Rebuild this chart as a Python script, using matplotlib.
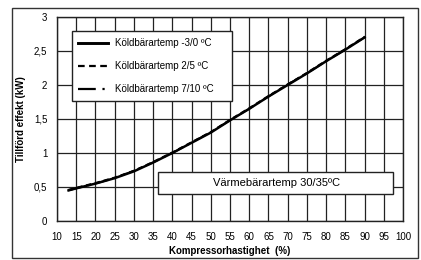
import numpy as np
import matplotlib.pyplot as plt
from matplotlib.patches import Rectangle
from matplotlib.lines import Line2D
from matplotlib.ticker import FuncFormatter

plt.rcParams['font.family'] = ['Liberation Sans', 'DejaVu Sans']

speed = [13, 15, 20, 25, 30, 35, 40, 45, 50, 55, 60, 65, 70, 75, 80, 85, 90]
p_m3_0 = [0.45, 0.48, 0.55, 0.63, 0.73, 0.86, 1.00, 1.15, 1.30, 1.48, 1.65, 1.83, 2.00, 2.17, 2.35, 2.52, 2.70]
p_2_5 = [0.46, 0.49, 0.56, 0.64, 0.74, 0.87, 1.01, 1.16, 1.31, 1.49, 1.66, 1.84, 2.01, 2.18, 2.36, 2.53, 2.71]
p_7_10 = [0.45, 0.48, 0.55, 0.63, 0.74, 0.86, 1.00, 1.15, 1.31, 1.48, 1.65, 1.83, 2.01, 2.17, 2.35, 2.52, 2.70]
labels = ['Köldbärartemp -3/0 ºC', 'Köldbärartemp 2/5 ºC', 'Köldbärartemp 7/10 ºC']
styles = ['-', (0, (3, 2)), (0, (8, 3, 1, 3))]
widths = [1.8, 1.3, 1.3]

fig = plt.figure(figsize=(4.21, 2.6), dpi=100)
fig.patches.append(Rectangle((12 / 421, 1 - 258 / 260), 406 / 421, 250 / 260,
                             transform=fig.transFigure, fill=False,
                             edgecolor='#333333', linewidth=1.0))
ax = fig.add_axes([57 / 421, 1 - 221 / 260, 346 / 421, 204 / 260])

for y, lab, ls, lw in zip([p_m3_0, p_2_5, p_7_10], labels, styles, widths):
    ax.plot(speed, y, color='black', linewidth=lw, linestyle=ls, label=lab)

ax.set_xlim(10, 100)
ax.set_ylim(0, 3)
ax.set_xticks(np.arange(10, 101, 5))
ax.set_yticks(np.arange(0, 3.01, 0.5))
ax.yaxis.set_major_formatter(FuncFormatter(lambda v, p: ('%g' % v).replace('.', ',')))
ax.tick_params(axis='x', length=0, labelsize=7, pad=8)
ax.tick_params(axis='y', length=0, labelsize=7, pad=7)
ax.grid(True, color='#222222', linewidth=0.9)
for s in ax.spines.values():
    s.set_linewidth(1.0)
    s.set_color('#222222')

ax.set_xlabel('Kompressorhastighet  (%)', fontsize=7, fontweight='bold', labelpad=3)
ax.set_ylabel('Tillförd effekt (kW)', fontsize=7, fontweight='bold', labelpad=6)

# legend box drawn by hand to match the original size
ax.add_patch(Rectangle((0.043, 0.588), 0.463, 0.343, transform=ax.transAxes,
                       facecolor='white', edgecolor='#222222', linewidth=1.0, zorder=5))
for i, (lab, ls, lw) in enumerate(zip(labels, styles, widths)):
    yy = 0.874 - i * 0.113
    ax.add_line(Line2D([0.061, 0.148], [yy, yy], transform=ax.transAxes,
                       color='black', linestyle=ls, linewidth=lw + 0.3, zorder=6))
    ax.text(0.168, yy, lab, transform=ax.transAxes, fontsize=7,
            va='center', ha='left', zorder=6)

ax.add_patch(Rectangle((0.292, 0.132), 0.679, 0.108, transform=ax.transAxes,
                       facecolor='white', edgecolor='#222222', linewidth=1.0, zorder=5))
ax.text(0.635, 0.188, 'Värmebärartemp 30/35ºC', transform=ax.transAxes,
        fontsize=8, va='center', ha='center', zorder=6)

fig.savefig('out.png', dpi=100)
